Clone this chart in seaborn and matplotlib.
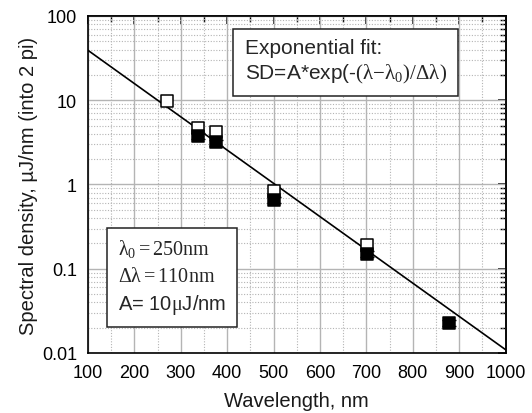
import numpy as np
import pandas as pd
import matplotlib
matplotlib.use("Agg")
import matplotlib.pyplot as plt
import seaborn as sns
from matplotlib.ticker import MultipleLocator, LogLocator, FixedLocator, NullFormatter, FixedFormatter

# Measured spectral density (open and filled symbols)
wl_open = [270, 337, 376, 501, 701]
sd_open = [9.9, 4.7, 4.2, 0.83, 0.19]
wl_filled = [337, 376, 501, 701, 877]
sd_filled = [3.75, 3.15, 0.66, 0.151, 0.0228]
err_filled = [0.3, 0.25, 0.05, 0.012, 0.002]

# Exponential fit parameters
A = 10.0          # uJ/nm
lam0 = 250.0      # nm
dlam = 110.0      # nm

x_ticks = [100, 200, 300, 400, 500, 600, 700, 800, 900, 1000]
y_ticks = [0.01, 0.1, 1, 10, 100]
y_tick_labels = ["0.01", "0.1", "1", "10", "100"]

sns.set_theme(style="white")
plt.rcParams["font.family"] = ["Liberation Sans", "DejaVu Sans"]
plt.rcParams["mathtext.fontset"] = "custom"
plt.rcParams["mathtext.rm"] = "Liberation Serif"
plt.rcParams["mathtext.it"] = "Liberation Serif:italic"

fig = plt.figure(figsize=(5.32, 4.14), dpi=100)
ax = fig.add_axes([0.1654, 0.145, 0.785, 0.814])

fit_x = np.linspace(100, 1000, 200)
fit = pd.DataFrame({"wl": fit_x, "sd": A * np.exp(-(fit_x - lam0) / dlam)})
sns.lineplot(data=fit, x="wl", y="sd", ax=ax, color="black", lw=1.2, zorder=3)

open_df = pd.DataFrame({"wl": wl_open, "sd": sd_open})
filled_df = pd.DataFrame({"wl": wl_filled, "sd": sd_filled})

sns.scatterplot(data=open_df, x="wl", y="sd", ax=ax, marker="s", s=75,
                facecolor="white", edgecolor="black", linewidth=1.1, zorder=4)
ax.errorbar(wl_filled, sd_filled, yerr=err_filled, fmt="none", ecolor="black",
            elinewidth=1, capsize=5, capthick=1, zorder=5)
sns.scatterplot(data=filled_df, x="wl", y="sd", ax=ax, marker="s", s=70,
                color="black", edgecolor="black", linewidth=1.1, zorder=6)

ax.set_yscale("log")
ax.set_xlim(100, 1000)
ax.set_ylim(0.01, 100)

ax.xaxis.set_major_locator(FixedLocator(x_ticks))
ax.xaxis.set_minor_locator(MultipleLocator(50))
ax.yaxis.set_major_locator(FixedLocator(y_ticks))
ax.yaxis.set_major_formatter(FixedFormatter(y_tick_labels))
ax.yaxis.set_minor_locator(LogLocator(base=10, subs=np.arange(2, 10), numticks=20))
ax.yaxis.set_minor_formatter(NullFormatter())

ax.grid(which="major", color="#b4b4b4", lw=1.0, ls="-", zorder=0)
ax.grid(which="minor", color="#b4b4b4", lw=0.8, ls=(0, (1, 1.5)), zorder=0)
ax.set_axisbelow(True)

for s in ax.spines.values():
    s.set_color("black")
    s.set_linewidth(1.2)

ax.tick_params(axis="x", which="major", direction="inout", length=8, width=1.1,
               colors="black", labelsize=13, pad=4)
ax.tick_params(axis="x", which="minor", direction="out", length=4, width=1.0, colors="black")
ax.tick_params(axis="y", which="major", direction="out", length=6, width=1.1,
               colors="black", labelsize=13, pad=2)
ax.tick_params(axis="y", which="minor", direction="out", length=3.5, width=1.0, colors="black")

# Mirrored inward ticks on top and right
top = ax.secondary_xaxis("top")
top.xaxis.set_major_locator(FixedLocator(x_ticks))
top.xaxis.set_minor_locator(MultipleLocator(50))
top.tick_params(which="major", direction="in", length=6, width=1.1, labeltop=False, colors="black")
top.tick_params(which="minor", direction="in", length=4, width=1.0, colors="black")
top.spines["top"].set_linewidth(1.2)

right = ax.secondary_yaxis("right")
right.yaxis.set_major_locator(FixedLocator(y_ticks))
right.yaxis.set_minor_locator(LogLocator(base=10, subs=np.arange(2, 10), numticks=20))
right.yaxis.set_minor_formatter(NullFormatter())
right.tick_params(which="major", direction="in", length=6, width=1.1, labelright=False, colors="black")
right.tick_params(which="minor", direction="in", length=4, width=1.0, colors="black")
right.spines["right"].set_linewidth(1.2)

ax.set_xlabel("Wavelength, nm", fontsize=14.5, color="#1a1a1a", labelpad=7)
ax.set_ylabel("Spectral density, \u00b5J/nm (into 2 pi)", fontsize=14.5, color="#1a1a1a", labelpad=3)

# Fit formula box
box = dict(boxstyle="square,pad=0.55", facecolor="white", edgecolor="#222222", lw=1.1)
ax.text(0.375, 0.865,
        "Exponential fit:\nSD=A*exp(-$\\mathrm{(\\lambda{-}\\lambda_0)/\\Delta\\lambda)}$",
        transform=ax.transAxes, fontsize=15, va="center", ha="left",
        linespacing=1.3, bbox=box, zorder=7)

# Fit parameters box
ax.text(0.072, 0.227,
        "$\\mathrm{\\lambda_0{=}250nm}$\n$\\mathrm{\\Delta\\lambda{=}110nm}$\nA= 10$\\mathrm{\\mu}$J/nm",
        transform=ax.transAxes, fontsize=14.5, va="center", ha="left",
        linespacing=1.45, bbox=box, zorder=7)

fig.savefig("out.png", dpi=100)
